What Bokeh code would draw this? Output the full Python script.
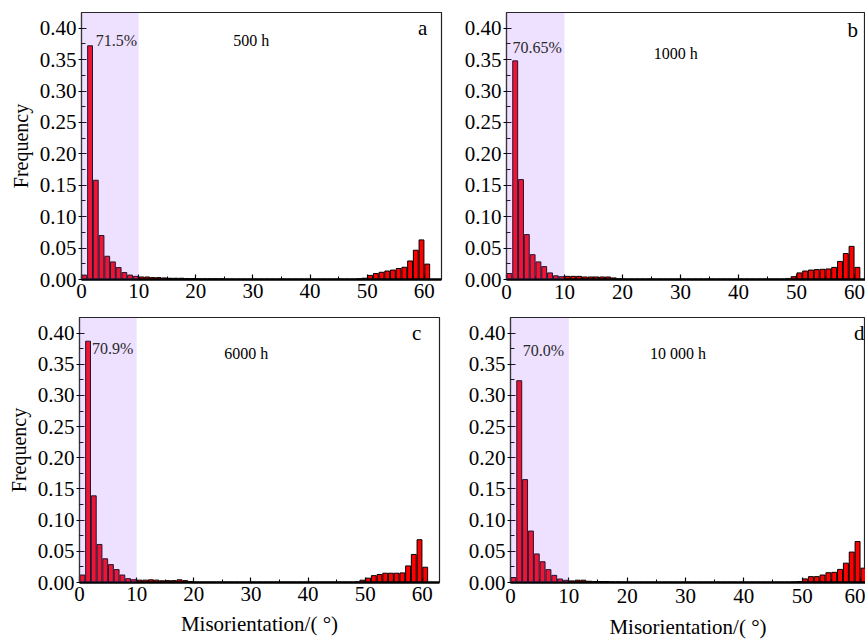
from bokeh.plotting import figure
from bokeh.layouts import column, row
from bokeh.models import BoxAnnotation, Label, FixedTicker, Range1d, PrintfTickFormatter
from bokeh.embed import file_html
from bokeh.resources import INLINE

# ---------------- data ----------------
bin_left = list(range(0, 61))   # misorientation bins (deg), 1 deg wide

freq_500h = [
    0.007, 0.372, 0.158, 0.070, 0.037, 0.028, 0.019, 0.011, 0.007, 0.005,
    0.004, 0.004, 0.003, 0.003, 0.0025, 0.002, 0.002, 0.002, 0.0015, 0.0015,
    0.001, 0.001, 0.001, 0.001, 0.001, 0.0005, 0.0005, 0.0005, 0.0005, 0.0005,
    0.0005, 0.0005, 0.0005, 0.0005, 0.0005, 0.0005, 0.0005, 0.0005, 0.0005, 0.0005,
    0.0005, 0.0005, 0.0005, 0.0005, 0.0005, 0.0005, 0.0005, 0.0005, 0.001, 0.002,
    0.0065, 0.0095, 0.0115, 0.0135, 0.015, 0.0175, 0.0195, 0.0295, 0.0466, 0.063,
    0.0245,
]
freq_1000h = [
    0.0095, 0.348, 0.159, 0.0715, 0.0395, 0.028, 0.0205, 0.0105, 0.0058, 0.0045,
    0.005, 0.005, 0.005, 0.004, 0.004, 0.004, 0.004, 0.004, 0.0025, 0.001,
    0.0005, 0.0005, 0.0005, 0.0005, 0.0005, 0.0005, 0.0005, 0.0005, 0.0005, 0.0005,
    0.0005, 0.0005, 0.0005, 0.0005, 0.0005, 0.0005, 0.0005, 0.0005, 0.0005, 0.0005,
    0.0005, 0.0005, 0.0005, 0.0005, 0.0005, 0.0005, 0.0005, 0.0005, 0.001, 0.0045,
    0.0105, 0.0135, 0.015, 0.0158, 0.0162, 0.0168, 0.0193, 0.0288, 0.0413, 0.0528,
    0.0193,
]
freq_6000h = [
    0.012, 0.387, 0.139, 0.061, 0.038, 0.0287, 0.0207, 0.012, 0.0062, 0.0045,
    0.0038, 0.0038, 0.0043, 0.0038, 0.0027, 0.003, 0.003, 0.0043, 0.003, 0.0015,
    0.0005, 0.0005, 0.0005, 0.0005, 0.0005, 0.0005, 0.0005, 0.0005, 0.0005, 0.0005,
    0.0005, 0.0005, 0.0005, 0.0005, 0.0005, 0.0005, 0.0005, 0.0005, 0.0005, 0.0005,
    0.0005, 0.0005, 0.0005, 0.0005, 0.0005, 0.0005, 0.0005, 0.0005, 0.001, 0.0037,
    0.007, 0.011, 0.0128, 0.0149, 0.0149, 0.0149, 0.0154, 0.0266, 0.045, 0.0686,
    0.0245,
]
freq_10000h = [
    0.008, 0.3236, 0.165, 0.0825, 0.0458, 0.0333, 0.0206, 0.0115, 0.0056, 0.0035,
    0.0026, 0.0037, 0.0037, 0.002, 0.0016, 0.0016, 0.0016, 0.001, 0.001, 0.0007,
    0.0004, 0.0004, 0.0004, 0.0004, 0.0004, 0.0004, 0.0004, 0.0004, 0.0004, 0.0004,
    0.0004, 0.0004, 0.0004, 0.0004, 0.0004, 0.0004, 0.0004, 0.0004, 0.0004, 0.0004,
    0.0004, 0.0004, 0.0004, 0.0004, 0.0004, 0.0004, 0.0004, 0.0004, 0.0008, 0.0016,
    0.0058, 0.0094, 0.0094, 0.012, 0.0157, 0.0163, 0.021, 0.031, 0.0488, 0.0656,
    0.023,
]

lagb_share = ["71.5%", "70.65%", "70.9%", "70.0%"]
durations = ["500 h", "1000 h", "6000 h", "10 000 h"]
panel_letters = ["a", "b", "c", "d"]

x_ticks = [0, 10, 20, 30, 40, 50, 60]
x_minor = [5, 15, 25, 35, 45, 55]
y_ticks = [0.0, 0.05, 0.10, 0.15, 0.20, 0.25, 0.30, 0.35, 0.40]
y_minor = [0.025, 0.075, 0.125, 0.175, 0.225, 0.275, 0.325, 0.375]
lagb_limit = 10

y_label = "Frequency"
x_label = "Misorientation/( °)"

SERIF = "Liberation Serif"


def panel(vals, pct, hours, letter, width, height, borders, xmax,
          pct_pos, hours_pos, letter_pos, show_ylabel, show_xlabel,
          tick_standoff, xlabel_standoff):
    bl, br, bt, bb = borders
    p = figure(width=width, height=height,
               x_range=Range1d(0, xmax), y_range=Range1d(0, 0.425),
               output_backend="svg", toolbar_location=None,
               min_border_left=bl, min_border_right=br,
               min_border_top=bt, min_border_bottom=bb)
    p.grid.visible = False
    p.outline_line_color = "#222222"
    p.outline_line_width = 1.2
    p.background_fill_color = "white"
    p.border_fill_color = "white"

    centers = [b + 0.5 for b in bin_left]
    p.vbar(x=centers, top=vals, width=0.85, bottom=0,
           fill_color="#ff0000", line_color="#000000", line_width=1)

    shade = BoxAnnotation(left=0, right=lagb_limit, fill_color="#aa64ff",
                          fill_alpha=0.2, line_color=None, level="overlay")
    p.add_layout(shade)

    # x axis
    xa = p.xaxis[0]
    xa.ticker = FixedTicker(ticks=x_ticks, minor_ticks=x_minor)
    xa.axis_line_width = 2.5
    xa.axis_line_color = "black"
    xa.major_tick_in = 5
    xa.major_tick_out = 0
    xa.minor_tick_in = 3
    xa.minor_tick_out = 0
    xa.major_tick_line_width = 1.2
    xa.major_label_text_font = SERIF
    xa.major_label_text_font_size = "21px"
    xa.major_label_text_color = "black"
    xa.major_label_standoff = tick_standoff
    if show_xlabel:
        xa.axis_label = x_label
        xa.axis_label_text_font = SERIF
        xa.axis_label_text_font_size = "21px"
        xa.axis_label_text_font_style = "normal"
        xa.axis_label_text_color = "black"
        xa.axis_label_standoff = xlabel_standoff

    # y axis
    ya = p.yaxis[0]
    ya.ticker = FixedTicker(ticks=y_ticks, minor_ticks=y_minor)
    ya.formatter = PrintfTickFormatter(format="%.2f")
    ya.axis_line_color = "#333333"
    ya.axis_line_width = 1.2
    ya.major_tick_in = 5
    ya.major_tick_out = 3
    ya.minor_tick_in = 4
    ya.minor_tick_out = 0
    ya.major_label_text_font = SERIF
    ya.major_label_text_font_size = "21px"
    ya.major_label_text_color = "black"
    ya.major_label_standoff = 2
    if show_ylabel:
        ya.axis_label = y_label
        ya.axis_label_text_font = SERIF
        ya.axis_label_text_font_size = "20px"
        ya.axis_label_text_font_style = "normal"
        ya.axis_label_text_color = "black"
        ya.axis_label_standoff = 5

    for txt, pos, size, col in ((pct, pct_pos, "16px", "#2a2a2a"),
                                (hours, hours_pos, "16px", "black"),
                                (letter, letter_pos, "21px", "black")):
        p.add_layout(Label(x=pos[0], y=pos[1], text=txt, text_font=SERIF,
                           text_font_size=size, text_color=col,
                           text_align="center", text_baseline="middle",
                           level="overlay"))
    return p


pa = panel(freq_500h, lagb_share[0], durations[0], panel_letters[0],
           445, 310, (81, 4, 12, 30), 63,
           (6.1, 0.381), (29.7, 0.381), (59.7, 0.40), True, False, 4, 6)
pb = panel(freq_1000h, lagb_share[1], durations[1], panel_letters[1],
           420, 310, (61, 0, 10, 31), 61.9,
           (5.3, 0.37), (29.2, 0.36), (59.7, 0.397), False, False, 5, 6)
pc = panel(freq_6000h, lagb_share[2], durations[2], panel_letters[2],
           445, 331, (79, 6, 4, 59), 63,
           (5.8, 0.375), (29.2, 0.368), (59.0, 0.40), True, True, 4, 8)
pd = panel(freq_10000h, lagb_share[3], durations[3], panel_letters[3],
           420, 331, (65, 0, 7, 54), 60.86,
           (5.65, 0.372), (28.7, 0.367), (59.8, 0.40), False, True, 6, 9)

layout = column(row(pa, pb, spacing=0), row(pc, pd, spacing=0), spacing=0)

open("out.html", "w").write(file_html(layout, INLINE, "Misorientation distributions"))
